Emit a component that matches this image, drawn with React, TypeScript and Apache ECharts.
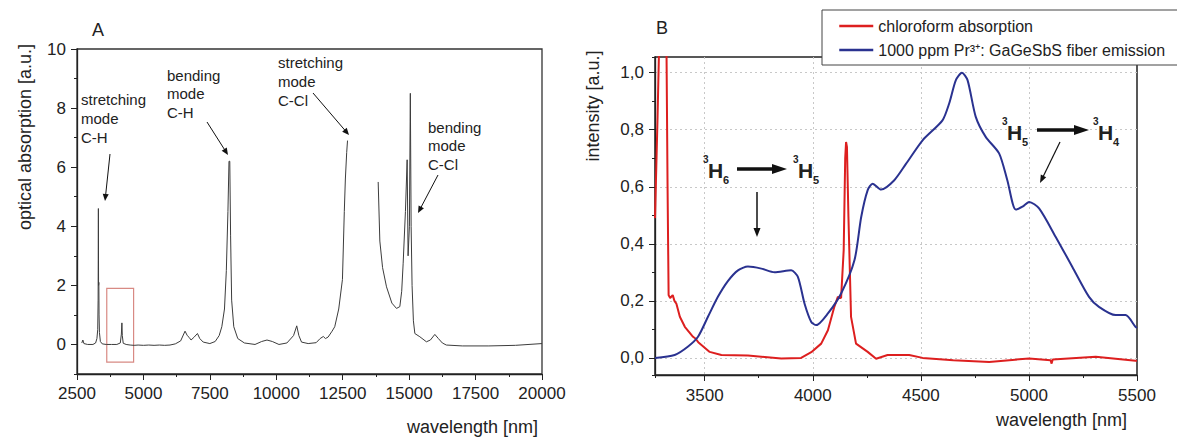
import React, { useEffect, useRef } from 'react';
import * as echarts from 'echarts';

// ---------- Panel A: chloroform absorption spectrum ----------
const absWavelength = [
  2680, 2720, 2760, 2900, 3100, 3200, 3250, 3280, 3295, 3305, 3312, 3322, 3330, 3345, 3380, 3450,
  3600, 3800, 4000, 4130, 4170, 4190, 4205, 4240, 4350, 4500, 4650, 4800, 5000, 5200, 5400, 5600,
  5800, 6000, 6200, 6400, 6566, 6650, 6720, 6792, 6900, 7033, 7120, 7250, 7500, 7700, 7850, 7950,
  8050, 8120, 8180, 8220, 8250, 8280, 8320, 8400, 8550, 8800, 9200, 9450, 9650, 9850, 10100, 10400,
  10650, 10770, 10850, 10950, 11200, 11500, 11650, 11770, 11850, 11950, 12100, 12200, 12350, 12490,
  12560, 12600, 12650, 12681, 13200, 13835, 13897, 14000, 14148, 14350, 14524, 14650, 14720, 14775,
  14860, 14925, 14960, 15010, 15045, 15075, 15110, 15160, 15215, 15403, 15650, 15800, 15967, 16100,
  16250, 16400, 17000, 18000, 19000, 20000,
];
const absValue = [
  0.05, 0.15, 0.03, 0.0, 0.0, 0.05, 0.2, 0.5, 1.5, 4.6, 2.0, 2.1, 1.0, 0.4, 0.1, 0.02,
  0.0, 0.0, 0.0, 0.05, 0.35, 0.73, 0.3, 0.04, 0.0, -0.02, -0.03, -0.02, -0.03, -0.02, -0.03, -0.02,
  -0.03, -0.02, 0.02, 0.12, 0.45, 0.3, 0.24, 0.15, 0.24, 0.37, 0.2, 0.08, 0.03, 0.1, 0.3, 0.6,
  1.2, 2.5, 4.5, 6.2, 6.2, 3.7, 1.5, 0.6, 0.2, 0.05, 0.0, 0.1, 0.15, 0.1, 0.0, 0.05,
  0.3, 0.63, 0.3, 0.08, 0.03, 0.06, 0.2, 0.27, 0.2, 0.25, 0.45, 0.6, 1.2, 2.2,
  4.5, 5.6, 6.5, 6.9, null, 5.5, 3.5, 2.6, 1.95, 1.4, 1.22, 1.28, 1.8, 2.75,
  4.5, 6.25, 3.0, 4.0, 8.5, 4.0, 2.0, 0.8, 0.37, 0.26, 0.09, 0.15, 0.34, 0.2,
  0.05, -0.02, -0.05, -0.05, -0.03, 0.03,
];
const boxWavelength = [3620, 4630];
const boxAbsorption = [-0.6, 1.9];

// ---------- Panel B ----------
const chloroformWavelength = [
  3270, 3282, 3295, 3318, 3323, 3328, 3333, 3340, 3352, 3360, 3369, 3385, 3408, 3446, 3457, 3470,
  3523, 3577, 3700, 3854, 3946, 3993, 4039, 4070, 4100, 4116, 4131, 4143, 4150, 4154, 4158, 4165,
  4177, 4200, 4254, 4293, 4346, 4446, 4508, 4650, 4816, 5001, 5100, 5105, 5110, 5309, 5493, 5500,
];
const chloroformValue = [
  0.49, 0.85, 1.3, 1.3, 1.1, 0.61, 0.22, 0.21, 0.22, 0.2, 0.19, 0.144, 0.109, 0.074, 0.068, 0.055,
  0.021, 0.01, 0.008, -0.002, 0.0, 0.02, 0.05, 0.097, 0.18, 0.214, 0.21, 0.378, 0.7, 0.757, 0.74, 0.494,
  0.144, 0.05, 0.021, -0.003, 0.01, 0.01, 0.0, -0.008, -0.014, -0.002, -0.008, -0.02, -0.006, 0.004, -0.01, -0.01,
];
const emissionWavelength = [
  3270, 3361, 3423, 3469, 3515, 3561, 3608, 3654, 3700, 3762, 3823, 3900, 3931, 3962, 3993, 4016,
  4070, 4131, 4193, 4224, 4254, 4277, 4316, 4377, 4431, 4508, 4600, 4631, 4662, 4690, 4716, 4754,
  4800, 4862, 4900, 4939, 4970, 5001, 5047, 5124, 5201, 5278, 5324, 5401, 5447, 5493, 5500,
];
const emissionValue = [
  0.0, 0.01, 0.04, 0.074, 0.144, 0.214, 0.27, 0.307, 0.32, 0.313, 0.3, 0.307, 0.284, 0.19, 0.126, 0.115,
  0.156, 0.226, 0.343, 0.494, 0.588, 0.611, 0.59, 0.623, 0.68, 0.763, 0.833, 0.892, 0.974, 1.0, 0.974, 0.845,
  0.775, 0.717, 0.623, 0.52, 0.53, 0.547, 0.524, 0.424, 0.319, 0.214, 0.179, 0.15, 0.15, 0.109, 0.105,
];

const seriesNames = ['chloroform absorption', '1000 ppm Pr³⁺: GaGeSbS fiber emission'];

const FONT = '"Liberation Sans", Arial, Helvetica, sans-serif';
const INK = '#222';

const pairs = (xs: number[], ys: (number | null)[]) => xs.map((x, i) => [x, ys[i] === null ? '-' : ys[i]]);

function arrow(x1: number, y1: number, x2: number, y2: number, w: number, hl: number, hw: number) {
  const dx = x2 - x1, dy = y2 - y1;
  const len = Math.sqrt(dx * dx + dy * dy);
  const ux = dx / len, uy = dy / len;
  const bx = x2 - ux * hl, by = y2 - uy * hl;
  const px = -uy, py = ux;
  return [
    { type: 'line', shape: { x1, y1, x2: x2 - ux * hl * 0.7, y2: y2 - uy * hl * 0.7 }, style: { stroke: '#111', lineWidth: w }, z: 100 },
    {
      type: 'polygon',
      shape: { points: [[x2, y2], [bx + px * hw, by + py * hw], [bx - px * hw, by - py * hw]] },
      style: { fill: '#111' },
      z: 100,
    },
  ];
}

function txt(text: string, x: number, y: number, size: number, extra: any = {}) {
  return {
    type: 'text',
    x,
    y,
    z: 100,
    rotation: extra.rotation || 0,
    style: {
      text,
      fontSize: size,
      fontFamily: FONT,
      fontWeight: extra.bold ? 'bold' : 'normal',
      fill: INK,
      align: extra.align || 'left',
      verticalAlign: 'middle',
    },
  };
}

function level(term: string, sub: string, x: number, y: number) {
  return [
    txt('3', x, y - 11, 10, { bold: true }),
    txt(term, x + 5, y, 21, { bold: true }),
    txt(sub, x + 20, y + 10, 11, { bold: true }),
  ];
}

export default function App() {
  const ref = useRef<HTMLDivElement>(null);
  useEffect(() => {
    const chart = echarts.init(ref.current!, null, { renderer: 'svg' });
    const axisLine = { show: true, onZero: false, lineStyle: { color: INK, width: 1.3 } };
    const label = { color: INK, fontSize: 17, fontFamily: FONT };
    const plain = (v: number) => String(Math.round(v));
    const grid2Split = {
      show: true, showMinLine: false, showMaxLine: false,
      lineStyle: { color: '#c8c8c8', type: [2, 3], width: 1 },
    };
    const option: any = {
      animation: false,
      backgroundColor: '#fff',
      grid: [
        { left: 77, top: 49, width: 465, height: 325, show: true, borderColor: '#333', borderWidth: 1.3, backgroundColor: 'transparent' },
        { left: 655, top: 57, width: 482, height: 318, show: true, borderColor: '#222', borderWidth: 1.5, backgroundColor: 'transparent' },
      ],
      xAxis: [
        {
          gridIndex: 0, type: 'value', position: 'bottom', min: 2500, max: 20000, interval: 2500,
          axisLine, axisTick: { show: true, length: 6, lineStyle: { color: INK } },
          minorTick: { show: true, splitNumber: 2, length: 3, lineStyle: { color: INK } },
          splitLine: { show: false }, minorSplitLine: { show: false },
          axisLabel: { ...label, margin: 11, formatter: plain },
        },
        {
          gridIndex: 1, type: 'value', position: 'bottom', min: 3270, max: 5500, minInterval: 500, maxInterval: 500, splitNumber: 4,
          axisLine, axisTick: { show: true, length: 6, lineStyle: { color: INK } },
          splitLine: grid2Split,
          axisLabel: { ...label, margin: 12, showMinLabel: false, formatter: plain },
        },
        {
          gridIndex: 1, type: 'value', position: 'bottom', min: 3270, max: 5500, minInterval: 250, maxInterval: 250, splitNumber: 9,
          axisLine: { show: false, onZero: false }, axisTick: { show: true, length: 3, lineStyle: { color: INK } },
          splitLine: { show: false }, axisLabel: { show: false },
        },
      ],
      yAxis: [
        {
          gridIndex: 0, type: 'value', position: 'left', min: -1, max: 10, interval: 1,
          axisLine: { show: false, onZero: false }, axisTick: { show: true, length: 3, lineStyle: { color: INK } },
          splitLine: { show: false }, axisLabel: { show: false },
        },
        {
          gridIndex: 0, type: 'value', position: 'left', min: -1, max: 10, minInterval: 2, maxInterval: 2, splitNumber: 5,
          axisLine, axisTick: { show: true, length: 6, lineStyle: { color: INK } },
          splitLine: { show: false },
          axisLabel: { ...label, margin: 11, showMinLabel: false },
        },
        {
          gridIndex: 1, type: 'value', position: 'left', min: -0.06, max: 1.055, minInterval: 0.2, maxInterval: 0.2, splitNumber: 5,
          axisLine, axisTick: { show: true, length: 6, lineStyle: { color: INK } },
          splitLine: grid2Split,
          axisLabel: {
            ...label, margin: 11, showMinLabel: false, showMaxLabel: false,
            formatter: (v: number) => v.toFixed(1).replace('.', ','),
          },
        },
        {
          gridIndex: 1, type: 'value', position: 'left', min: -0.06, max: 1.055, minInterval: 0.1, maxInterval: 0.1, splitNumber: 10,
          axisLine: { show: false, onZero: false }, axisTick: { show: true, length: 3, lineStyle: { color: INK } },
          splitLine: { show: false }, axisLabel: { show: false },
        },
      ],
      legend: {
        data: seriesNames,
        orient: 'vertical',
        left: 822,
        top: 10,
        padding: [8, 15, 7, 16],
        itemGap: 8,
        itemWidth: 34,
        itemHeight: 14,
        backgroundColor: '#fff',
        borderColor: '#444',
        borderWidth: 1,
        z: 50,
        itemStyle: { opacity: 0 },
        lineStyle: { width: 2.5 },
        textStyle: { color: INK, fontSize: 16, fontFamily: FONT },
      },
      series: [
        {
          type: 'line', name: 'absorption', xAxisIndex: 0, yAxisIndex: 1,
          data: pairs(absWavelength, absValue), showSymbol: false, symbol: 'none', connectNulls: false,
          lineStyle: { color: '#3c3c3c', width: 1 },
          markArea: {
            silent: true,
            itemStyle: { color: 'rgba(0,0,0,0)', borderColor: '#d88a84', borderWidth: 1.2 },
            data: [[{ coord: [boxWavelength[0], boxAbsorption[1]] }, { coord: [boxWavelength[1], boxAbsorption[0]] }]],
          },
        },
        {
          type: 'line', name: seriesNames[0], xAxisIndex: 1, yAxisIndex: 2,
          data: pairs(chloroformWavelength, chloroformValue), showSymbol: false, symbol: 'none',
          lineStyle: { color: '#dd1f1f', width: 2 }, itemStyle: { color: '#dd1f1f' },
        },
        {
          type: 'line', name: seriesNames[1], xAxisIndex: 1, yAxisIndex: 2,
          data: pairs(emissionWavelength, emissionValue), showSymbol: false, symbol: 'none',
          smooth: 0.25,
          lineStyle: { color: '#2a3290', width: 2 }, itemStyle: { color: '#2a3290' },
        },
      ],
      graphic: [
        txt('A', 98, 30, 18, { align: 'center' }),
        txt('B', 662, 28, 18, { align: 'center' }),
        txt('optical absorption [a.u.]', 25, 137, 18, { align: 'center', rotation: Math.PI / 2 }),
        txt('wavelength [nm]', 538, 427, 18, { align: 'right' }),
        txt('intensity [a.u.]', 593, 106, 18, { align: 'center', rotation: Math.PI / 2 }),
        txt('wavelength [nm]', 1127, 420, 18, { align: 'right' }),
        txt('stretching', 81, 99, 15), txt('mode', 81, 118, 15), txt('C-H', 81, 137, 15),
        txt('bending', 167, 75, 15), txt('mode', 167, 93.5, 15), txt('C-H', 167, 112, 15),
        txt('stretching', 278, 62, 15), txt('mode', 278, 81, 15), txt('C-Cl', 278, 100, 15),
        txt('bending', 428, 127, 15), txt('mode', 428, 145, 15), txt('C-Cl', 428, 164, 15),
        ...arrow(110, 154, 105, 201, 1, 7, 3),
        ...arrow(207, 122, 228, 155, 1, 7, 3),
        ...arrow(313, 93, 349, 135, 1, 7, 3),
        ...arrow(438, 175, 418, 213, 1, 7, 3),
        ...level('H', '6', 703, 170),
        ...level('H', '5', 793, 170),
        ...arrow(737, 169, 787, 169, 3.5, 15, 5),
        ...arrow(757, 192, 757, 237, 1.5, 9, 3.5),
        ...level('H', '5', 1002, 132),
        ...level('H', '4', 1093, 132),
        ...arrow(1037, 130, 1089, 130, 3.5, 15, 5),
        ...arrow(1060, 142, 1040, 183, 1.2, 8, 3),
      ],
    };
    chart.setOption(option);
    return () => chart.dispose();
  }, []);
  return (
    <div
      ref={ref}
      style={{ position: 'absolute', left: 0, top: 0, width: 1177, height: 439, background: '#fff' }}
    />
  );
}
